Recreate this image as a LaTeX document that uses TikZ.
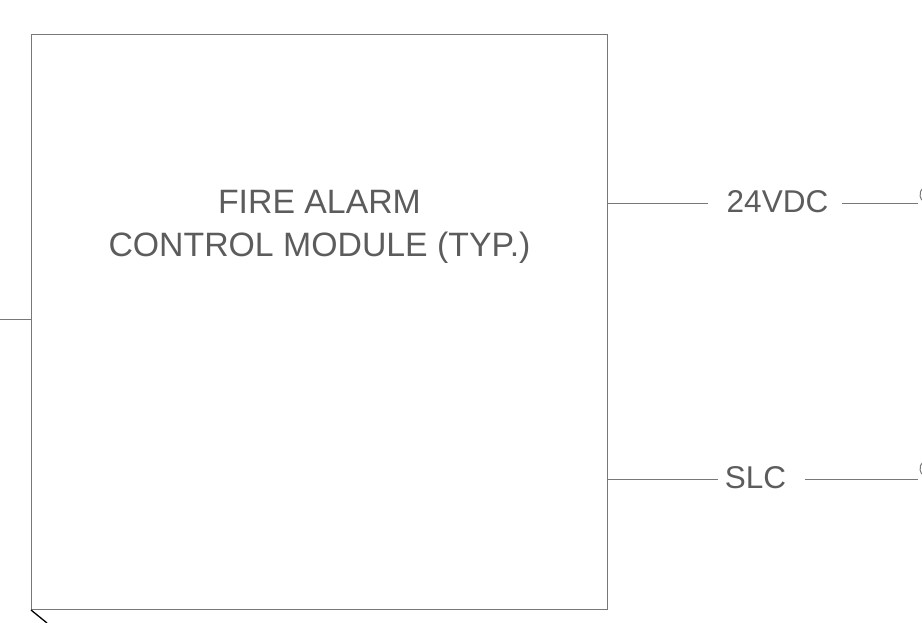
\documentclass[tikz,border=0pt]{standalone}
\usepackage{fontspec}
\setmainfont{Liberation Sans}
\definecolor{txtgray}{RGB}{92,92,92}
\definecolor{linegray}{RGB}{120,120,120}
\begin{document}
\begin{tikzpicture}[x=1pt,y=-1pt,
  wire/.style={draw=linegray,line width=1pt},
  lbl/.style={text=txtgray,font=\fontsize{31.5}{40}\selectfont,inner sep=0pt,anchor=base},
  ttl/.style={lbl,font=\fontsize{33.8}{40}\selectfont}]
\useasboundingbox (0,0) rectangle (922,623);
\node[draw=linegray,line width=1pt,minimum width=575.5pt,minimum height=575pt,inner sep=0pt,anchor=north west] (box) at (31,34) {};
\node[ttl] (t1) at (319.5,214) {FIRE ALARM};
\node[ttl] (t2) at (319.5,256) {CONTROL MODULE (TYP.)};
% 24VDC
\node[lbl] (v24) at (777.5,213) {24VDC};
\coordinate (a24l) at (708,204);
\coordinate (a24r) at (842,204);
\coordinate (e24) at (918,204);
\draw[wire] (box.east |- a24l) -- (a24l);
\draw[wire] (a24r) -- (e24);
\draw[wire] (929,194.5) ++(180+50:9) arc (180+50:180-50:9);
% SLC
\node[lbl] (slc) at (755.5,488) {SLC};
\coordinate (aSl) at (718,479.5);
\coordinate (aSr) at (805,479.5);
\coordinate (eS) at (918,479.5);
\draw[wire] (box.east |- aSl) -- (aSl);
\draw[wire] (aSr) -- (eS);
\draw[wire] (929,468.5) ++(180+50:9) arc (180+50:180-50:9);
% left
\coordinate (lft) at (0,319);
\draw[wire] (lft) -- (box.west |- lft);
% diagonal
\coordinate (dg) at (47,623);
\draw[black,line width=1.3pt] (box.south west) -- (dg);
\end{tikzpicture}
\end{document}
